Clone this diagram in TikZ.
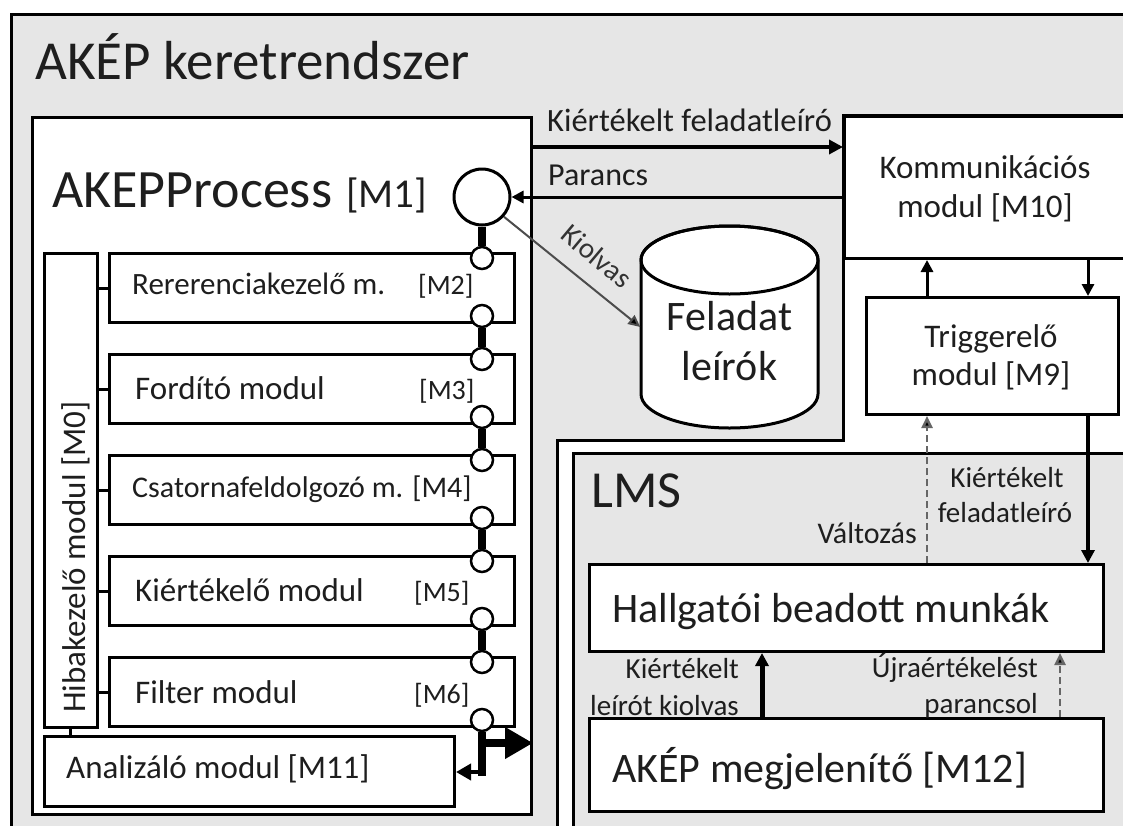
\documentclass[tikz,border=0pt]{standalone}
\usepackage{fontspec}
\setmainfont{Carlito}
\usetikzlibrary{arrows.meta,calc}
\definecolor{bggray}{HTML}{E6E6E6}
\definecolor{txt}{HTML}{1E1E1E}
\tikzset{
  fs/.style={font=\fontsize{#1}{#1}\selectfont},
  boxw/.style={draw=black, line width=3pt, fill=white, rectangle, inner sep=0pt, anchor=north west},
  lbl/.style={inner sep=0pt, text=txt},
  lw/.style={lbl, anchor=base west},
  le/.style={lbl, anchor=base east},
  lc/.style={lbl, anchor=base},
  port/.style={circle, draw=black, line width=2.5pt, fill=white, minimum size=22pt, inner sep=0pt},
  chainln/.style={line width=8pt},
  arr/.style={line width=3pt, -{Triangle[length=12pt,width=12pt]}},
  darr/.style={line width=2.5pt, draw=black!60, dash pattern=on 7pt off 4pt, -{Triangle[length=12pt,width=11pt,fill=black]}},
}
\begin{document}
\begin{tikzpicture}[x=1pt,y=-1pt]
\useasboundingbox (0,0) rectangle (1123,825);
\clip (0,0) rectangle (1123,825);
% outer frame
\node[boxw, fill=bggray, minimum width=1150, minimum height=840] (outer) at (10,13) {};
\node[lw, fs=55] (title) at (35,79) {AKÉP keretrendszer};
% white system region
\draw[fill=white, line width=3pt] (843,115) -- (1160,115) -- (1160,860) -- (557,860) -- (557,440) -- (843,440) -- cycle;
% LMS
\node[boxw, fill=bggray, minimum width=600, minimum height=400] (lms) at (572,452) {};
\node[lw, fs=52] (lmst) at (591,507) {LMS};
% AKEPProcess
\node[boxw, minimum width=499, minimum height=697] (akep) at (31,116) {};
\node[lw, fs=54] (akept) at (52,207) {AKEPProcess};
\node[lw, fs=41] (akepm) at (346,207) {[M1]};
\node[circle, draw=black, line width=3pt, fill=white, minimum size=56pt, inner sep=0pt] (m1c) at (482,197) {};
% M0
\node[boxw, minimum width=53, minimum height=474] (m0) at (43,252) {};
\node[lw, fs=33, rotate=90] (m0t) at (85,713) {Hibakezelő modul [M0]};
% modules
\node[boxw, minimum width=405, minimum height=69] (m2) at (108,252) {};
\node[boxw, minimum width=405, minimum height=69] (m3) at (108,353) {};
\node[boxw, minimum width=405, minimum height=69] (m4) at (108,454) {};
\node[boxw, minimum width=405, minimum height=69] (m5) at (108,555) {};
\node[boxw, minimum width=405, minimum height=69] (m6) at (108,656) {};
\node[lw, fs=31] (m2t) at (132,294) {Rererenciakezelő m.};
\node[lw, fs=28] (m2m) at (418,294) {[M2]};
\node[lw, fs=33] (m3t) at (135,399) {Fordító modul};
\node[lw, fs=28] (m3m) at (419,399) {[M3]};
\node[lw, fs=30] (m4t) at (132,497) {Csatornafeldolgozó m. [M4]};
\node[lw, fs=33] (m5t) at (135,601) {Kiértékelő modul};
\node[lw, fs=28] (m5m) at (414,601) {[M5]};
\node[lw, fs=33] (m6t) at (135,703) {Filter modul};
\node[lw, fs=28] (m6m) at (414,703) {[M6]};
\foreach \m in {m2,m3,m4,m5,m6}{\draw[line width=3pt] (m0.east |- \m.west) -- (\m.west);}
% M11
\node[boxw, minimum width=410, minimum height=70] (m11) at (43,735) {};
\node[lw, fs=33] (m11t) at (66,778) {Analizáló modul [M11]};
\draw[line width=3pt] (m0.south -| 70,0) -- (m11.north -| 70,0);
% ports
\node[port] (p2t) at (482,258) {};
\node[port] (p2b) at (482,316) {};
\node[port] (p3t) at (482,359) {};
\node[port] (p3b) at (482,417) {};
\node[port] (p4t) at (482,460) {};
\node[port] (p4b) at (482,518) {};
\node[port] (p5t) at (482,561) {};
\node[port] (p5b) at (482,619) {};
\node[port] (p6t) at (482,662) {};
\node[port] (p6b) at (482,720) {};
\draw[chainln] (m1c.south) -- (p2t.north);
\draw[chainln] (p2b.south) -- (p3t.north);
\draw[chainln] (p3b.south) -- (p4t.north);
\draw[chainln] (p4b.south) -- (p5t.north);
\draw[chainln] (p5b.south) -- (p6t.north);
\coordinate (jA) at (482,743);
\coordinate (jB) at (482,772);
\draw[line width=8pt] (p6b.south) -- ([yshift=-4pt]jB);
\draw[line width=4pt, -{Triangle[length=15pt,width=16pt]}] ([xshift=2pt]jB) -- (m11.east |- jB);
\draw[line width=8pt, -{Triangle[length=28pt,width=30pt]}] (jA) -- (akep.east |- jA);
% Kommunikacios
\node[boxw, minimum width=300, minimum height=142] (komm) at (843,115) {};
\node[lc, fs=33] (kommt1) at (985,178) {Kommunikációs};
\node[lc, fs=33] (kommt2) at (985,217) {modul [M10]};
% Trigger
\node[boxw, minimum width=252, minimum height=117] (trig) at (865,296) {};
\node[lc, fs=33] (trigt1) at (991,347) {Triggerelő};
\node[lc, fs=33] (trigt2) at (991,385) {modul [M9]};
\coordinate (upx) at (927,0);
\coordinate (dnx) at (1088,0);
\draw[arr] (trig.north -| upx) -- (komm.south -| upx);
\draw[arr] (komm.south -| dnx) -- (trig.north -| dnx);
% top arrows
\coordinate (ky) at (0,147);
\draw[line width=4.5pt, -{Triangle[length=14pt,width=14pt]}] (akep.east |- ky) -- (komm.west |- ky);
\node[lw, fs=32.5] (kfl) at (547,131) {Kiértékelt feladatleíró};
\draw[arr] (komm.west |- m1c.east) -- (m1c.east);
\node[lw, fs=32] (par) at (548,185) {Parancs};
% cylinder
\draw[fill=white, line width=3pt] (641,260) -- (641,394) arc[start angle=180,end angle=360,x radius=88.5pt,y radius=34pt] -- (818,260) arc[start angle=0,end angle=180,x radius=88.5pt,y radius=34pt] -- cycle;
\draw[line width=3pt] (729.5,260) ellipse [x radius=88.5pt, y radius=34pt];
\node[inner sep=0pt, minimum width=178pt, minimum height=202pt] (db) at (729.5,327) {};
\node[lc, fs=42] (dbt1) at (729.5,330) {Feladat};
\node[lc, fs=42] (dbt2) at (729.5,380) {leírók};
\draw[line width=2pt, draw=black!70, -{Triangle[length=12pt,width=11pt,fill=black]}] (m1c.-42) -- (db.west);
\node[lbl, fs=29, text=black!80, rotate=-40] (kio) at (597,256) {Kiolvas};
% LMS content
\node[boxw, minimum width=514, minimum height=87] (hall) at (588,563) {};
\node[lw, fs=42] (hallt) at (612,622) {Hallgatói beadott munkák};
\node[boxw, minimum width=514, minimum height=93] (megj) at (588,717) {};
\node[lw, fs=42] (megjt) at (612,782) {AKÉP megjelenítő [M12]};
\draw[line width=4.5pt, -{Triangle[length=13pt,width=13pt]}] (trig.south -| dnx) -- (hall.north -| dnx);
\node[lc, fs=29] (kf1) at (1007,487) {Kiértékelt};
\node[lc, fs=29] (kf2) at (1005,522) {feladatleíró};
\draw[darr] (hall.north -| upx) -- (trig.south -| upx);
\node[le, fs=30] (valt) at (917,543) {Változás};
\coordinate (ax) at (762,0);
\coordinate (bx) at (1060,0);
\draw[line width=5pt, -{Triangle[length=13pt,width=13pt]}] (megj.north -| ax) -- (hall.south -| ax);
\draw[darr] (megj.north -| bx) -- (hall.south -| bx);
\node[le, fs=29] (kl1) at (739,678) {Kiértékelt};
\node[le, fs=29] (kl2) at (739,715) {leírót kiolvas};
\node[le, fs=29] (uj1) at (1038,677) {Újraértékelést};
\node[le, fs=29] (uj2) at (1038,713) {parancsol};
\end{tikzpicture}
\end{document}
